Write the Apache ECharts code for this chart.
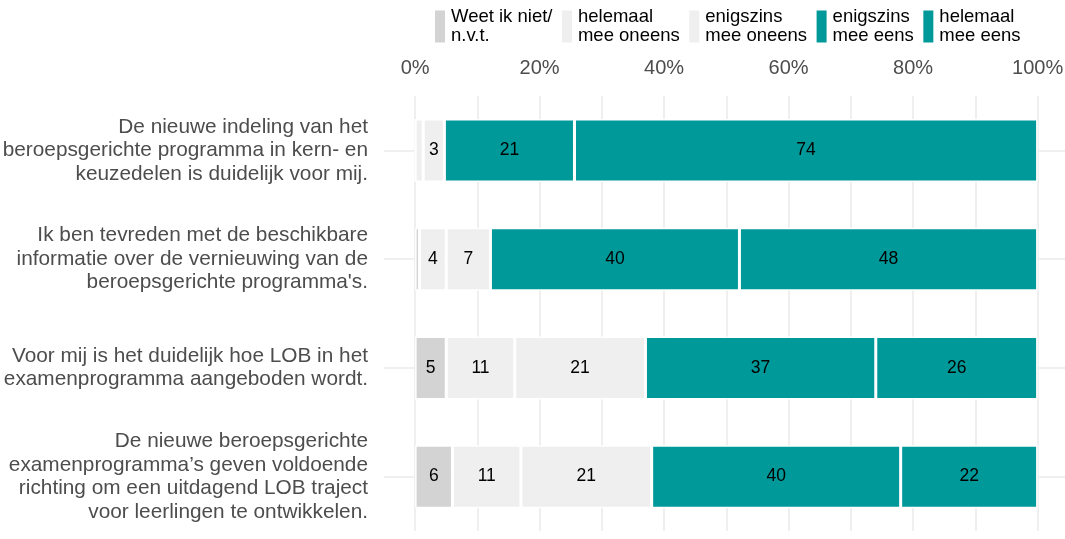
<!DOCTYPE html>
<html>
<head>
<meta charset="utf-8">
<script src="https://cdn.jsdelivr.net/npm/echarts@6/dist/echarts.min.js"></script>
<style>
  html, body { margin: 0; padding: 0; background: #fff; }
</style>
</head>
<body>
<div id="main" style="width: 1065px;height:539px;"></div>
<script type="text/javascript">
// vragen (van boven naar beneden)
var categories = [
    'De nieuwe indeling van het\nberoepsgerichte programma in kern- en\nkeuzedelen is duidelijk voor mij.',
    'Ik ben tevreden met de beschikbare\ninformatie over de vernieuwing van de\nberoepsgerichte programma\'s.',
    'Voor mij is het duidelijk hoe LOB in het\nexamenprogramma aangeboden wordt.',
    'De nieuwe beroepsgerichte\nexamenprogramma\u2019s geven voldoende\nrichting om een uitdagend LOB traject\nvoor leerlingen te ontwikkelen.'
];
var seriesNames = ['Weet ik niet/\nn.v.t.', 'helemaal\nmee oneens', 'enigszins\nmee oneens', 'enigszins\nmee eens', 'helemaal\nmee eens'];
var weetNiet = [0, 0.7, 5, 6];
var helemaalOneens = [1.3, 4.3, 11, 11];
var enigszinsOneens = [3.4, 7.1, 21, 21];
var enigszinsEens = [20.9, 40.0, 37, 40];
var helemaalEens = [74.4, 47.9, 26, 22];
var tickValues = [0, 20, 40, 60, 80, 100];
var minorValues = [10, 30, 50, 70, 90];

var colors = ['#d3d3d3', '#efefef', '#efefef', '#009999', '#009999'];
var values = [weetNiet, helemaalOneens, enigszinsOneens, enigszinsEens, helemaalEens];

var myChart = echarts.init(document.getElementById('main'));

var series = values.map(function (v, i) {
    return {
        name: seriesNames[i],
        type: 'bar',
        stack: 'totaal',
        barWidth: 63,
        data: v,
        itemStyle: { color: colors[i], borderColor: '#ffffff', borderWidth: 1.5 },
        label: {
            show: true,
            position: 'inside',
            color: '#000',
            fontSize: 17.5,
            fontFamily: 'Liberation Sans',
            formatter: function (p) { return p.value >= 2.5 ? Math.round(p.value) : ''; }
        },
        z: 3
    };
});

// rasterlijnen als losse markLines
var gridLines = [];
tickValues.concat(minorValues).forEach(function (t) { gridLines.push({ xAxis: t }); });
categories.forEach(function (c) { gridLines.push({ yAxis: c }); });

series.push({
    type: 'line',
    data: [],
    silent: true,
    z: 1,
    markLine: {
        silent: true,
        z: 1,
        symbol: 'none',
        label: { show: false },
        lineStyle: { color: '#ebebeb', type: 'solid', width: 1.6 },
        data: gridLines
    }
});

var option = {
    animation: false,
    textStyle: { fontFamily: 'Liberation Sans' },
    legend: {
        top: 7,
        left: 433,
        padding: 0,
        itemWidth: 12,
        itemHeight: 34,
        itemGap: 7.5,
        icon: 'rect',
        data: seriesNames,
        textStyle: { fontSize: 18.5, color: '#000', lineHeight: 19.5, fontFamily: 'Liberation Sans' }
    },
    grid: { left: 384, right: 0, top: 96, bottom: 8, outerBoundsMode: 'none' },
    xAxis: {
        type: 'value',
        position: 'top',
        min: -5,
        max: 104.4,
        interval: 5,
        axisLine: { show: false },
        axisTick: { show: false },
        splitLine: { show: false },
        axisLabel: {
            fontSize: 20,
            color: '#4d4d4d',
            margin: 18,
            fontFamily: 'Liberation Sans',
            showMaxLabel: false,
            formatter: function (v) { return tickValues.indexOf(v) >= 0 ? v + '%' : ''; }
        }
    },
    yAxis: {
        type: 'category',
        inverse: true,
        data: categories,
        axisLine: { show: false },
        axisTick: { show: false },
        splitLine: { show: false },
        axisLabel: {
            fontSize: 20.8,
            lineHeight: 23.5,
            color: '#4d4d4d',
            align: 'right',
            margin: 16,
            fontFamily: 'Liberation Sans'
        }
    },
    series: series
};

myChart.setOption(option);
</script>
</body>
</html>
